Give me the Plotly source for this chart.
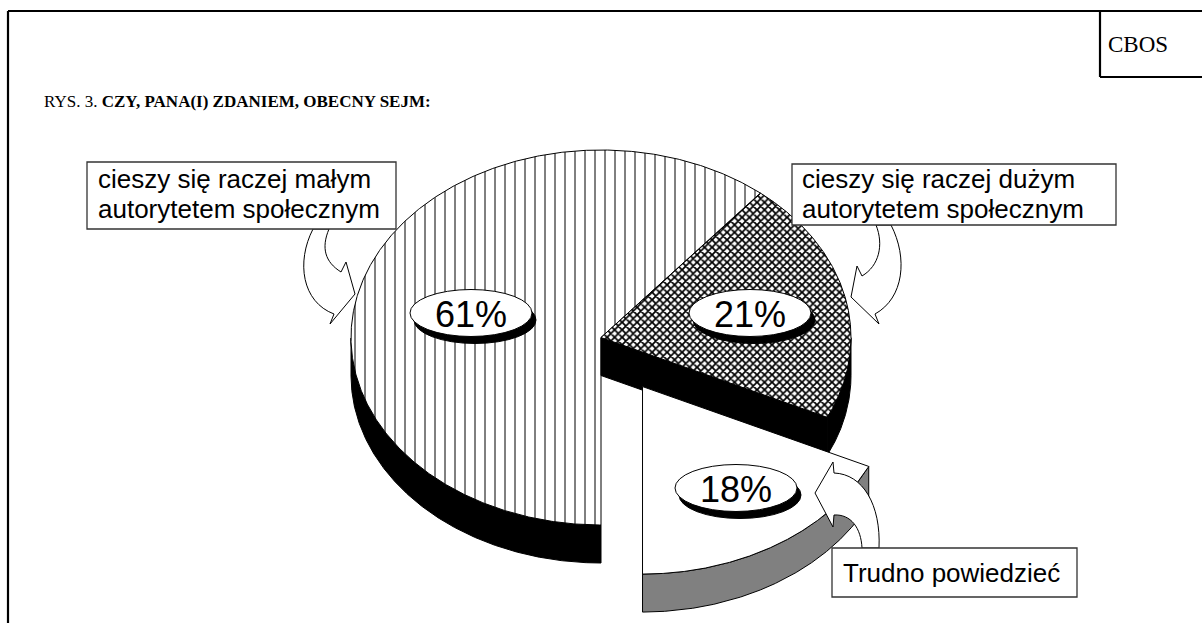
import numpy as np
import plotly.graph_objects as go

# ------------------------------------------------------------------ data
categories = ["cieszy się raczej małym autorytetem społecznym",
              "cieszy się raczej dużym autorytetem społecznym",
              "Trudno powiedzieć"]
values = [61, 21, 18]
value_labels = ["61%", "21%", "18%"]
explode = [0.0, 0.0, 0.31]
callout_lines = [["cieszy się raczej małym", "autorytetem społecznym"],
                 ["cieszy się raczej dużym", "autorytetem społecznym"],
                 ["Trudno powiedzieć"]]
title_prefix = "RYS. 3. "
title_bold = "CZY, PANA(I) ZDANIEM, OBECNY SEJM:"
source_label = "CBOS"

# ------------------------------------------------------------------ style / layout
W, H = 1202, 623
CX, CY = 601, 337.5          # pie centre (pixels)
RX, RY = 250, 187.5          # pie radii
DEPTH = 38                   # 3-D thickness
START = -90                  # first slice starts at 6 o'clock, clockwise
top_patterns = [dict(shape="|", size=10, solidity=0.1),
                dict(shape="x", size=5.3, solidity=0.55),
                None]
side_colors = ["#000000", "#000000", "#808080"]
label_centres = [(471, 313), (750, 313), (736, 488)]
LBL_RX, LBL_RY = 61, 23.5
boxes = [(87, 162, 396, 229), (792, 164, 1116, 225), (832, 548, 1077, 597)]
box_text_x = [97, 801, 842]
box_text_y = [[179, 209], [179, 209], [573]]
arrows = [
    "M 313,229 C 296,262 302,302 334,314 L 330,324 L 355,294 L 346,262 L 341,272 C 325,262 321,248 329,229 Z",
    "M 891,225 C 908,258 904,298 875,314 L 879,324 L 851,297 L 857,266 L 862,276 C 879,266 884,245 876,225 Z",
    "M 879,548 C 881,505 863,474 834,473 L 833,462 L 815,493 L 833,527 L 834,515 C 851,514 861,528 862,548 Z",
]
SANS = "Liberation Sans, Arial, sans-serif"
SERIF = "Liberation Serif, Times New Roman, serif"

fig = go.Figure()


def poly(xs, ys, color, pattern=None):
    kw = dict(x=list(xs), y=list(ys), mode="lines", fill="toself",
              line=dict(color="black", width=1), hoverinfo="skip",
              showlegend=False)
    if pattern is None:
        kw["fillcolor"] = color
    else:
        kw["fillcolor"] = "white"
        kw["fillpattern"] = dict(shape=pattern["shape"], size=pattern["size"],
                                 solidity=pattern["solidity"], fgcolor="black",
                                 bgcolor="white", fgopacity=1)
    fig.add_trace(go.Scatter(**kw))


cum = 0.0
for i, v in enumerate(values):
    a0 = START - cum * 3.6
    a1 = a0 - v * 3.6
    cum += v
    mid = np.radians((a0 + a1) / 2)
    ox = CX + explode[i] * RX * np.cos(mid)
    oy = CY - explode[i] * RY * np.sin(mid)
    t = np.radians(np.linspace(a0, a1, 600))
    ax = ox + RX * np.cos(t)
    ay = oy - RY * np.sin(t)

    # radial faces that face the viewer
    for a, visible in ((a0, np.cos(np.radians(a0)) < -1e-9),
                       (a1, np.cos(np.radians(a1)) > 1e-9)):
        if visible:
            px = ox + RX * np.cos(np.radians(a))
            py = oy - RY * np.sin(np.radians(a))
            poly([ox, px, px, ox, ox], [oy, py, py + DEPTH, oy + DEPTH, oy], side_colors[i])

    # visible (front) part of the curved side
    front = np.sin(t) <= 1e-12
    idx = np.where(front)[0]
    if idx.size:
        runs = np.split(idx, np.where(np.diff(idx) != 1)[0] + 1)
        for r in runs:
            if r.size < 2:
                continue
            xs = np.concatenate([ax[r], ax[r][::-1], ax[r][:1]])
            ys = np.concatenate([ay[r], ay[r][::-1] + DEPTH, ay[r][:1]])
            poly(xs, ys, side_colors[i])

    # top surface
    xs = np.concatenate([[ox], ax, [ox]])
    ys = np.concatenate([[oy], ay, [oy]])
    poly(xs, ys, "white", top_patterns[i])

shapes = []
# outer frame and CBOS box
frame = dict(type="line", xref="x", yref="y", line=dict(color="black", width=2.2))
shapes.append({**frame, "x0": 8, "y0": 11, "x1": 8, "y1": H + 5})
shapes.append({**frame, "x0": 8, "y0": 11, "x1": W + 5, "y1": 11})
shapes.append({**frame, "x0": 1100, "y0": 11, "x1": 1100, "y1": 77})
shapes.append({**frame, "x0": 1100, "y0": 77, "x1": W + 5, "y1": 77})

# curved callout arrows
for p in arrows:
    shapes.append(dict(type="path", xref="x", yref="y", path=p, fillcolor="white",
                       line=dict(color="black", width=1)))
# callout boxes
for (x0, y0, x1, y1) in boxes:
    shapes.append(dict(type="rect", xref="x", yref="y", x0=x0, y0=y0, x1=x1, y1=y1,
                       fillcolor="white", line=dict(color="#333333", width=1.3)))
# percentage label discs
for (lx, ly) in label_centres:
    shapes.append(dict(type="circle", xref="x", yref="y",
                       x0=lx - LBL_RX + 4, x1=lx + LBL_RX + 4,
                       y0=ly - LBL_RY + 7, y1=ly + LBL_RY + 7,
                       fillcolor="black", line=dict(color="black", width=1)))
    shapes.append(dict(type="circle", xref="x", yref="y",
                       x0=lx - LBL_RX, x1=lx + LBL_RX,
                       y0=ly - LBL_RY, y1=ly + LBL_RY,
                       fillcolor="white", line=dict(color="black", width=1)))

annotations = []
for (lx, ly), txt in zip(label_centres, value_labels):
    annotations.append(dict(x=lx, y=ly + 1, xref="x", yref="y", text=txt, showarrow=False,
                            xanchor="center", yanchor="middle", borderpad=0,
                            font=dict(family=SANS, size=36, color="black")))
for k, lines in enumerate(callout_lines):
    for line, ly in zip(lines, box_text_y[k]):
        annotations.append(dict(x=box_text_x[k], y=ly, xref="x", yref="y", text=line,
                                showarrow=False, xanchor="left", yanchor="middle",
                                borderpad=0,
                                font=dict(family=SANS, size=26, color="black")))
annotations.append(dict(x=43, y=101, xref="x", yref="y",
                        text=title_prefix + "<b>" + title_bold + "</b>",
                        showarrow=False, xanchor="left", yanchor="middle", borderpad=0,
                        font=dict(family=SERIF, size=17, color="black")))
annotations.append(dict(x=1138, y=44, xref="x", yref="y", text=source_label,
                        showarrow=False, xanchor="center", yanchor="middle", borderpad=0,
                        font=dict(family=SERIF, size=23, color="black")))

fig.update_layout(
    width=W, height=H, autosize=False,
    margin=dict(l=0, r=0, t=0, b=0, pad=0),
    paper_bgcolor="white", plot_bgcolor="white",
    xaxis=dict(range=[0, W], visible=False, fixedrange=True),
    yaxis=dict(range=[H, 0], visible=False, fixedrange=True),
    shapes=shapes, annotations=annotations, showlegend=False,
)

fig.write_html("out.html", config={"displayModeBar": False},
               post_script="document.body.style.margin='0px';")
